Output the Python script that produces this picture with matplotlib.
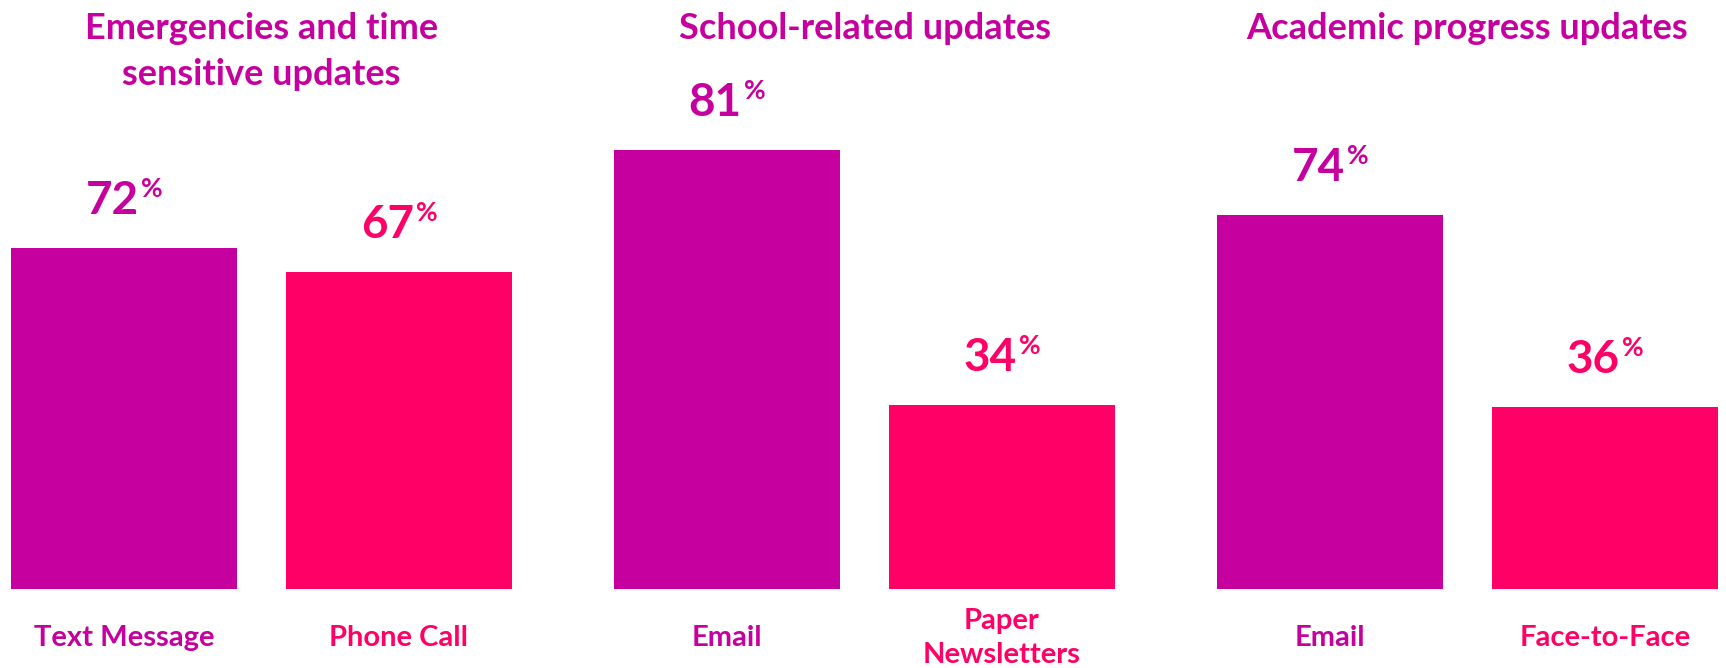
import matplotlib
matplotlib.use("Agg")
import matplotlib.pyplot as plt

# Survey data: preferred channel per kind of school communication
groups = ["Emergencies and time\nsensitive updates",
          "School-related updates",
          "Academic progress updates"]
channels = [["Text Message", "Phone Call"],
            ["Email", "Paper\nNewsletters"],
            ["Email", "Face-to-Face"]]
shares = [[72, 67],
          [81, 34],
          [74, 36]]

PURPLE = "#C6009E"
PINK = "#FF0066"
bar_colors = [PURPLE, PINK]

plt.rcParams['font.family'] = ['Lato', 'DejaVu Sans']

W, H, DPI = 1726, 668, 100
fig = plt.figure(figsize=(W / DPI, H / DPI), dpi=DPI)
renderer = fig.canvas.get_renderer()

# layout (pixels)
panel_left0 = 11
panel_pitch = 603
panel_width = 501
base_y = 589            # baseline of the bars, measured from the top
bar_width = 0.822
px_per_point = [4.73, 5.42, 5.06]   # vertical scale of each panel
label_gap = 34          # bar top -> value baseline
cat_offset = 49         # bar base -> category label centre

for g, (title, names, vals) in enumerate(zip(groups, channels, shares)):
    left = panel_left0 + g * panel_pitch
    ax = fig.add_axes([left / W, (H - base_y) / H, panel_width / W, base_y / H])
    ax.set_xlim(-0.411, 1.411)
    ax.set_ylim(0, base_y / px_per_point[g])
    ax.axis('off')

    xs = list(range(len(vals)))
    ax.bar(xs, vals, width=bar_width, color=bar_colors[:len(vals)])

    for i, (v, name) in enumerate(zip(vals, names)):
        c = bar_colors[i]
        num = ax.annotate(f"{v}", xy=(i, v), xytext=(0, label_gap),
                          textcoords='offset pixels', ha='center', va='baseline',
                          fontsize=33, fontweight='bold', color=c)
        pct = ax.annotate("%", xy=(i, v), xytext=(0, label_gap + 17),
                          textcoords='offset pixels', ha='left', va='baseline',
                          fontsize=19, fontweight='bold', color=c)
        wn = num.get_window_extent(renderer).width
        wp = pct.get_window_extent(renderer).width
        gap = 2
        num.set_position((-(wp + gap) / 2, label_gap))
        pct.set_position((wn / 2 - (wp + gap) / 2 + gap, label_gap + 17))

        ax.annotate(name, xy=(i, 0), xytext=(0, -cat_offset),
                    textcoords='offset pixels', ha='center', va='center',
                    fontsize=21, fontweight='bold', color=c, linespacing=1.4)

    cx = left + panel_width / 2
    fig.text(cx / W, 1 - 12 / H, title, ha='center', va='top',
             fontsize=26, fontweight='bold', color=PURPLE, linespacing=1.48)

fig.savefig("out.png", dpi=DPI)
